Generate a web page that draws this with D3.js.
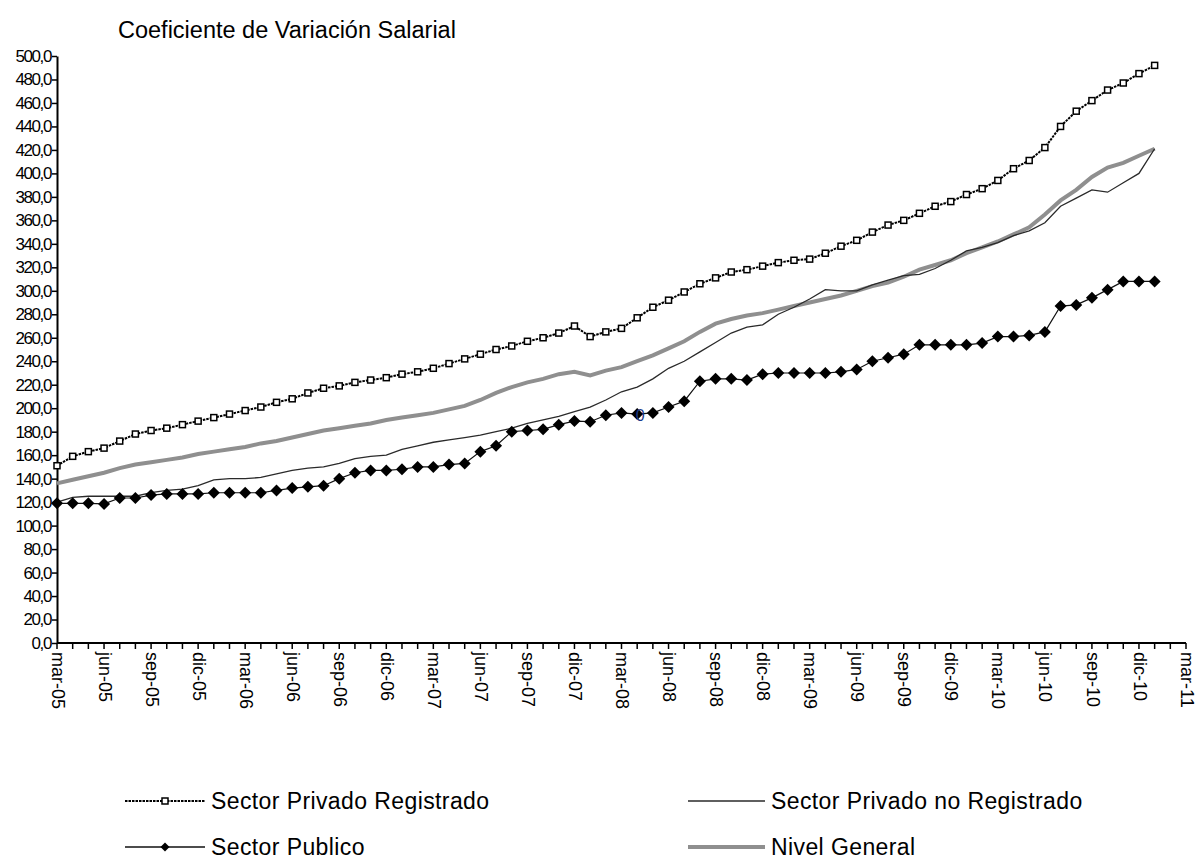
<!DOCTYPE html>
<html>
<head>
<meta charset="utf-8">
<script src="https://cdn.jsdelivr.net/npm/d3@7"></script>
<style>
  body { margin: 0; background: #fff; }
  text { font-family: "Liberation Sans", Arial, sans-serif; }
</style>
</head>
<body>
<script>
// monthly series, mar-05 .. ene-11
var startMonth = new Date(2005, 2, 1);

var privadoRegistrado = [151,159,163,166,172,178,181,183,186,189,192,195,198,201,205,208,213,217,219,222,
  224,226,229,231,234,238,242,246,250,253,257,260,264,270,261,265,268,277,286,292,
  299,306,311,316,318,321,324,326,327,332,338,343,350,356,360,366,372,376,382,387,
  394,404,411,422,440,453,462,471,477,485,492];

var privadoNoRegistrado = [120,124,125,125,125,125,128,130,131,134,139,140,140,141,144,147,149,150,153,157,
  159,160,165,168,171,173,175,177,180,183,187,190,193,197,201,207,214,218,225,234,
  240,248,256,264,269,271,280,286,293,301,300,300,305,309,313,314,319,326,334,337,
  341,347,351,358,372,379,386,384,392,400,421];

var sectorPublico = [119,119,119,118.5,123.5,123.5,126,127,127,127,128,128,128,128,130,132,133,134,140,145,
  147,147,148,150,150,152,153,163,168,180,181,182,186,189,188.5,194,196,195,196,201,
  206,223,225,225,224,229,230,230,230,230,231,233,240,243,246,254,254,254,254,255.5,
  261,261,262,265,287,288,294,301,308,308,308];

var nivelGeneral = [136,139,142,145,149,152,154,156,158,161,163,165,167,170,172,175,178,181,183,185,
  187,190,192,194,196,199,202,207,213,218,222,225,229,231,228,232,235,240,245,251,
  257,265,272,276,279,281,284,287,290,293,296,300,304,307,312,318,322,326,332,337,
  342,348,354,365,377,386,397,405,409,415,421];

var yTicks = d3.range(0, 501, 20);
var monthNames = ["ene","feb","mar","abr","may","jun","jul","ago","sep","oct","nov","dic"];
var xLabelMonths = [2, 5, 8, 11]; // mar, jun, sep, dic
var seriesNames = ["Sector Privado Registrado", "Sector Privado no Registrado", "Sector Publico", "Nivel General"];

var w = 1200, h = 863;
var mLeft = 57, mRight = 1186, mTop = 56, mBottom = 643;

var svg = d3.select("body").append("svg")
  .attr("width", w)
  .attr("height", h)
  .style("background", "#fff");

var x = d3.scaleLinear()
  .domain([0, 72])
  .range([mLeft, mRight]);
var monthIndex = function(date) {
  return (date.getFullYear() - 2005) * 12 + date.getMonth() - 2;
};

var y = d3.scaleLinear()
  .domain([0, 500])
  .range([mBottom, mTop]);

svg.append("text")
  .attr("x", 118)
  .attr("y", 38)
  .style("font-size", "23.5px")
  .text("Coeficiente de Variación Salarial");

// y axis
var yAxis = d3.axisLeft(y)
  .tickValues(yTicks)
  .tickFormat(function(d) { return d + ",0"; })
  .tickSize(5)
  .tickSizeOuter(0);
var gy = svg.append("g")
  .attr("transform", "translate(" + mLeft + ",0)")
  .call(yAxis);
gy.select(".domain").attr("stroke", "#000").attr("stroke-width", 2);
gy.selectAll(".tick line").attr("stroke", "#000").attr("stroke-width", 1.5);
gy.selectAll(".tick text")
  .attr("x", -6)
  .style("font-size", "17px")
  .style("letter-spacing", "-1.4px")
  .attr("fill", "#000");

// x axis, monthly ticks
var allMonths = d3.timeMonth.range(startMonth, new Date(2011, 2, 2));
var xAxis = d3.axisBottom(d3.scaleTime().domain([startMonth, new Date(2011, 2, 1)]).range([mLeft, mRight]))
  .tickValues(allMonths)
  .tickFormat(function(d) {
    return xLabelMonths.indexOf(d.getMonth()) >= 0 ? monthNames[d.getMonth()] + "-" + d3.timeFormat("%y")(d) : "";
  })
  .tickSize(6)
  .tickSizeOuter(0);
var gx = svg.append("g")
  .attr("transform", "translate(0," + mBottom + ")")
  .call(xAxis);
gx.selectAll(".tick").attr("transform", function(d) { return "translate(" + x(monthIndex(d)) + ",0)"; });
gx.select(".domain").attr("d", "M" + mLeft + ",0H" + mRight).attr("stroke", "#000").attr("stroke-width", 2);
gx.selectAll(".tick line").attr("stroke", "#000").attr("stroke-width", 1.5);
gx.selectAll(".tick text")
  .attr("transform", "rotate(90)")
  .attr("x", 9)
  .attr("y", 0)
  .attr("dy", "0.3em")
  .attr("text-anchor", "start")
  .style("font-size", "18px")
  .attr("fill", "#000");

var line = function(values) {
  return d3.line()
    .x(function(d, i) { return x(i); })
    .y(function(d) { return y(d); })(values);
};

// Nivel General
svg.append("path")
  .attr("d", line(nivelGeneral))
  .attr("fill", "none")
  .attr("stroke", "#8f8f8f")
  .attr("stroke-width", 4);

// Privado no registrado
svg.append("path")
  .attr("d", line(privadoNoRegistrado))
  .attr("fill", "none")
  .attr("stroke", "#2a2a2a")
  .attr("stroke-width", 1.3);

// Sector publico
svg.append("path")
  .attr("d", line(sectorPublico))
  .attr("fill", "none")
  .attr("stroke", "#111")
  .attr("stroke-width", 1.2);
var diamondPath = function(r) { return "M0," + (-r) + "L" + r + ",0L0," + r + "L" + (-r) + ",0Z"; };
svg.selectAll(".pub")
  .data(sectorPublico)
  .enter()
  .append("path")
  .attr("class", "pub")
  .attr("transform", function(d, i) { return "translate(" + x(i) + "," + y(d) + ")"; })
  .attr("d", diamondPath(6))
  .attr("fill", "#000");

// Privado registrado
svg.append("path")
  .attr("d", line(privadoRegistrado))
  .attr("fill", "none")
  .attr("stroke", "#000")
  .attr("stroke-width", 2)
  .attr("stroke-dasharray", "2.5,1");
svg.selectAll(".reg")
  .data(privadoRegistrado)
  .enter()
  .append("rect")
  .attr("class", "reg")
  .attr("x", function(d, i) { return x(i) - 3; })
  .attr("y", function(d) { return y(d) - 3; })
  .attr("width", 6)
  .attr("height", 6)
  .attr("fill", "#fff")
  .attr("stroke", "#000")
  .attr("stroke-width", 1.5);

// stray data label
svg.append("text")
  .attr("x", x(37) + 3)
  .attr("y", y(sectorPublico[37]) + 7)
  .attr("text-anchor", "middle")
  .style("font-size", "16px")
  .attr("fill", "#1a3a8a")
  .text("0");

// legend
var legend = [
  {name: seriesNames[0], x: 125, y: 801},
  {name: seriesNames[1], x: 688, y: 801},
  {name: seriesNames[2], x: 125, y: 847},
  {name: seriesNames[3], x: 688, y: 847}
];
legend.forEach(function(l, k) {
  var len = k % 2 === 0 ? 80 : 77;
  var ln = svg.append("line")
    .attr("x1", l.x).attr("x2", l.x + len)
    .attr("y1", l.y).attr("y2", l.y);
  if (k === 0) {
    ln.attr("stroke", "#000").attr("stroke-width", 2).attr("stroke-dasharray", "2.5,1");
    svg.append("rect").attr("x", l.x + 37).attr("y", l.y - 3).attr("width", 6).attr("height", 6)
      .attr("fill", "#fff").attr("stroke", "#000").attr("stroke-width", 1.5);
  } else if (k === 1) {
    ln.attr("stroke", "#2a2a2a").attr("stroke-width", 1.3);
  } else if (k === 2) {
    ln.attr("stroke", "#111").attr("stroke-width", 1.5);
    svg.append("path").attr("transform", "translate(" + (l.x + 40) + "," + l.y + ")")
      .attr("d", diamondPath(4.5)).attr("fill", "#000");
  } else {
    ln.attr("stroke", "#8f8f8f").attr("stroke-width", 4);
  }
  svg.append("text")
    .attr("x", l.x + len + 6)
    .attr("y", l.y)
    .attr("dy", "0.35em")
    .style("font-size", "23px")
    .style("letter-spacing", "0.4px")
    .text(l.name);
});
</script>
</body>
</html>
